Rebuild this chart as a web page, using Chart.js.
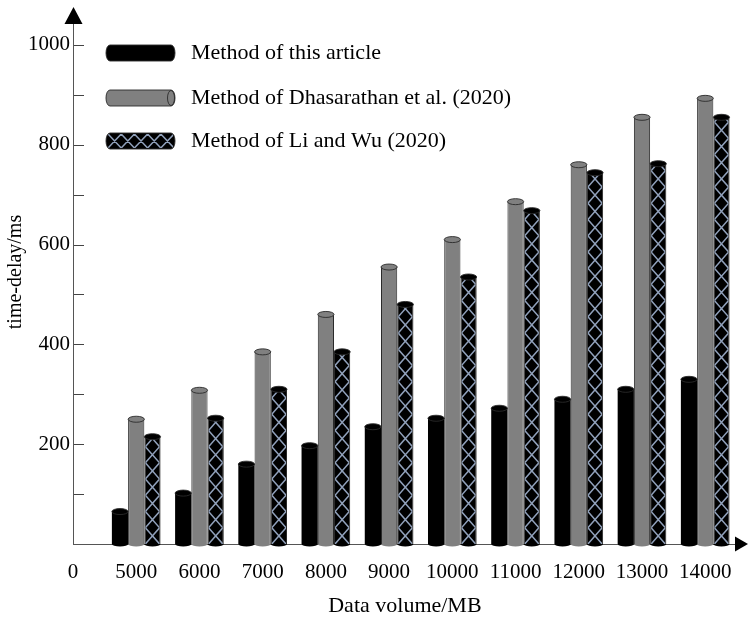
<!DOCTYPE html>
<html>
<head>
<meta charset="utf-8">
<script src="https://cdn.jsdelivr.net/npm/chart.js@4.4.1/dist/chart.umd.min.js"></script>
<style>
  html, body { margin: 0; padding: 0; background: #ffffff; }
  #wrap { width: 748px; height: 617px; }
</style>
</head>
<body>
<div id="wrap"><canvas id="chart" width="748" height="617"></canvas></div>
<script>
// Data volume (MB) for each group of bars
const categories = [5000, 6000, 7000, 8000, 9000, 10000, 11000, 12000, 13000, 14000];

// Time delay (ms) per method
const seriesNames = [
  'Method of this article',
  'Method of Dhasarathan et al. (2020)',
  'Method of Li and Wu (2020)'
];
const thisArticle = [65, 102, 160, 197, 235, 252, 272, 290, 310, 330];
const dhasarathan = [250, 308, 385, 460, 555, 610, 686, 760, 855, 893];
const liWu        = [215, 252, 310, 385, 480, 535, 668, 744, 762, 855];

// Axis ticks and titles
const yTicks = [0, 100, 200, 300, 400, 500, 600, 700, 800, 900, 1000];
const yLabelled = [200, 400, 600, 800, 1000];
const xOriginLabel = '0';
const xTitle = 'Data volume/MB';
const yTitle = 'time-delay/ms';

// Axis layout constants
const X_START = 4000;   // origin of the (broken) data-volume axis
const X_END = 14500;
const Y_TOP = 1044;

const SERIF = "'Liberation Serif', 'Times New Roman', serif";
const GRAY = '#808080';
const OUTLINE = '#2a2a2a';
const LATTICE = '#90a0ba';

function toPoints(values) {
  return values.map((v, i) => ({ x: categories[i], y: v }));
}

// X-shaped lattice inside a rectangle, one cross per tile
function drawLattice(ctx, left, top, w, h, tileW, tileH, anchorBottom) {
  ctx.save();
  ctx.beginPath();
  ctx.rect(left, top, w, h);
  ctx.clip();
  ctx.strokeStyle = LATTICE;
  ctx.lineWidth = 1.5;
  ctx.beginPath();
  if (anchorBottom) {
    const base = top + h;
    for (let yb = base; yb > top - tileH; yb -= tileH) {
      ctx.moveTo(left, yb); ctx.lineTo(left + w, yb - tileH);
      ctx.moveTo(left, yb - tileH); ctx.lineTo(left + w, yb);
    }
  } else {
    for (let xl = left; xl < left + w; xl += tileW) {
      ctx.moveTo(xl, top); ctx.lineTo(xl + tileW, top + h);
      ctx.moveTo(xl, top + h); ctx.lineTo(xl + tileW, top);
    }
  }
  ctx.stroke();
  ctx.restore();
}

// Horizontal capsule used as a legend marker
function capsulePath(ctx, x0, x1, cy, h) {
  const top = cy - h / 2;
  ctx.beginPath();
  ctx.moveTo(x0 + 4, top);
  ctx.lineTo(x1 - 4, top);
  ctx.ellipse(x1 - 4, cy, 4, h / 2, 0, -Math.PI / 2, Math.PI / 2);
  ctx.lineTo(x0 + 4, top + h);
  ctx.ellipse(x0 + 4, cy, 4, h / 2, 0, Math.PI / 2, Math.PI * 1.5);
  ctx.closePath();
}

const cylinderPlugin = {
  id: 'cylinders',
  afterDatasetsDraw(chart) {
    const ctx = chart.ctx;
    chart.data.datasets.forEach((ds, di) => {
      const meta = chart.getDatasetMeta(di);
      meta.data.forEach((bar) => {
        const { x, y, base, width } = bar.getProps(['x', 'y', 'base', 'width'], true);
        const left = x - width / 2;
        const rx = width / 2;
        if (ds.lattice) {
          drawLattice(ctx, left + 1, y, width - 2, base - y, width, width, true);
        }
        ctx.save();
        ctx.lineWidth = 0.9;
        ctx.strokeStyle = OUTLINE;
        // rounded foot below the baseline
        ctx.beginPath();
        ctx.ellipse(x, base, rx, 2.5, 0, 0, Math.PI);
        ctx.fillStyle = ds.capColor;
        ctx.fill();
        // top face of the cylinder
        ctx.beginPath();
        ctx.ellipse(x, y, rx, 3, 0, 0, Math.PI * 2);
        ctx.fillStyle = ds.capColor;
        ctx.fill();
        ctx.stroke();
        ctx.restore();
      });
    });
  },
  afterDraw(chart) {
    const ctx = chart.ctx;
    const area = chart.chartArea;
    const yScale = chart.scales.y;
    const ax = area.left;
    ctx.save();
    // inward tick marks on the value axis
    ctx.strokeStyle = '#444';
    ctx.lineWidth = 1;
    ctx.beginPath();
    yTicks.forEach((v) => {
      if (v === 0) return;
      const py = Math.round(yScale.getPixelForValue(v)) + 0.5;
      ctx.moveTo(ax + 1, py);
      ctx.lineTo(ax + 11, py);
    });
    ctx.stroke();
    // arrow heads
    ctx.fillStyle = '#000';
    ctx.beginPath();
    ctx.moveTo(ax + 0.5, 7);
    ctx.lineTo(ax + 9.5, area.top + 1);
    ctx.lineTo(ax - 8.5, area.top + 1);
    ctx.closePath();
    ctx.fill();
    const by = area.bottom;
    ctx.beginPath();
    ctx.moveTo(748, by);
    ctx.lineTo(735, by - 7.5);
    ctx.lineTo(735, by + 7.5);
    ctx.closePath();
    ctx.fill();

    // value-axis title
    ctx.save();
    ctx.translate(16, 272);
    ctx.rotate(-Math.PI / 2);
    ctx.fillStyle = '#000';
    ctx.font = "20px " + SERIF;
    ctx.textAlign = 'center';
    ctx.textBaseline = 'middle';
    ctx.fillText(yTitle, 0, 0);
    ctx.restore();

    // legend with cylinder markers
    const rows = [53, 98, 141];
    const mx0 = 106, mx1 = 175, mh = 16;
    chart.data.datasets.forEach((ds, di) => {
      const cy = rows[di];
      ctx.save();
      ctx.lineWidth = 0.9;
      ctx.strokeStyle = OUTLINE;
      capsulePath(ctx, mx0, mx1, cy, mh);
      ctx.fillStyle = ds.backgroundColor;
      ctx.fill();
      if (ds.lattice) {
        drawLattice(ctx, mx0 + 2, cy - mh / 2 + 1, mx1 - mx0 - 4, mh - 2, 13.2, mh - 2, false);
      }
      capsulePath(ctx, mx0, mx1, cy, mh);
      ctx.stroke();
      if (di === 1) {
        ctx.beginPath();
        ctx.ellipse(mx1 - 4, cy, 3.5, mh / 2 - 0.5, 0, 0, Math.PI * 2);
        ctx.stroke();
      }
      ctx.restore();
      ctx.fillStyle = '#000';
      ctx.font = "22px " + SERIF;
      ctx.textBaseline = 'middle';
      ctx.textAlign = 'left';
      ctx.fillText(ds.label, 191, cy);
    });
    ctx.restore();
  }
};

const datasets = [
  { label: seriesNames[0], data: toPoints(thisArticle), backgroundColor: '#000000', capColor: '#000000',
    borderWidth: 0 },
  { label: seriesNames[1], data: toPoints(dhasarathan), backgroundColor: GRAY, capColor: GRAY,
    borderColor: OUTLINE, borderWidth: 1 },
  { label: seriesNames[2], data: toPoints(liWu), backgroundColor: '#000000', capColor: '#000000',
    borderColor: OUTLINE, borderWidth: 1, lattice: true }
];

new Chart(document.getElementById('chart'), {
  type: 'bar',
  data: { datasets },
  options: {
    responsive: false,
    animation: false,
    devicePixelRatio: 1,
    layout: { padding: { top: 23, right: 11, left: 0, bottom: 0 } },
    datasets: { bar: { categoryPercentage: 0.77, barPercentage: 1.0 } },
    plugins: { legend: { display: false }, tooltip: { enabled: false } },
    scales: {
      x: {
        type: 'linear',
        min: X_START,
        max: X_END,
        offset: false,
        grid: { display: false, drawTicks: false },
        border: { display: true, color: '#555', width: 1 },
        afterBuildTicks: (s) => { s.ticks = [X_START, ...categories].map(v => ({ value: v })); },
        afterFit: (s) => { s.height = 73; },
        ticks: {
          autoSkip: false, maxRotation: 0, padding: 16, color: '#000',
          font: { family: SERIF, size: 21 },
          callback: (v) => (v === X_START ? xOriginLabel : String(v))
        },
        title: {
          display: true, text: xTitle, color: '#000',
          font: { family: SERIF, size: 22 }, padding: { top: 0, bottom: -2 }
        }
      },
      y: {
        type: 'linear',
        min: 0,
        max: Y_TOP,
        grid: { display: false, drawTicks: false },
        border: { display: true, color: '#555', width: 1 },
        afterBuildTicks: (s) => { s.ticks = yTicks.map(v => ({ value: v })); },
        afterFit: (s) => { s.width = 73; },
        ticks: {
          padding: 3, color: '#000',
          font: { family: SERIF, size: 21 },
          callback: (v) => (yLabelled.includes(v) ? String(v) : '')
        },
        title: { display: false }
      }
    }
  },
  plugins: [cylinderPlugin]
});
</script>
</body>
</html>
